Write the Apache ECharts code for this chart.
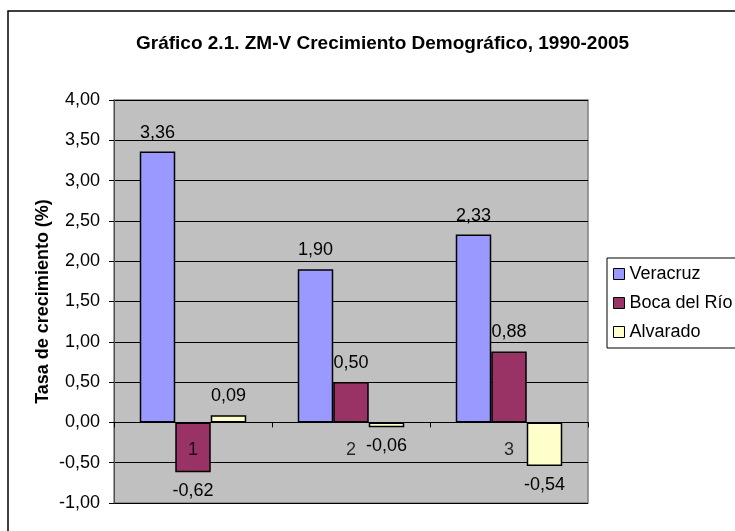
<!DOCTYPE html>
<html>
<head>
<meta charset="utf-8">
<script src="https://cdn.jsdelivr.net/npm/echarts@6/dist/echarts.min.js"></script>
<style>
html,body{margin:0;padding:0;background:#fff;}
#chart{width:735px;height:531px;}
</style>
</head>
<body>
<div id="chart"></div>
<script>
const titleText = 'Gráfico 2.1. ZM-V Crecimiento Demográfico, 1990-2005';
const yAxisName = 'Tasa de crecimiento (%)';
const categories = ['1', '2', '3'];
const seriesNames = ['Veracruz', 'Boca del Río', 'Alvarado'];
const veracruz = [3.36, 1.90, 2.33];
const bocaDelRio = [-0.62, 0.50, 0.88];
const alvarado = [0.09, -0.06, -0.54];
const colors = ['#9999FF', '#993366', '#FFFFCC'];
const yMin = -1, yMax = 4, yInterval = 0.5;

const fmt = v => v.toFixed(2).replace('.', ',');
const FONT = 'Liberation Sans, Arial, sans-serif';

function makeSeries(name, values, color) {
  return {
    name: name,
    type: 'bar',
    barGap: '0%',
    barCategoryGap: '32.6%',
    itemStyle: { color: color, borderColor: '#000', borderWidth: 1.5 },
    data: values.map(v => ({
      value: v,
      label: { position: v < 0 ? 'bottom' : 'top' }
    })),
    label: {
      show: true,
      distance: 10,
      color: '#000',
      fontFamily: FONT,
      fontSize: 18,
      formatter: p => fmt(p.value)
    }
  };
}

// category labels sit on the zero line (as in the original), drawn via the axis scale
const categoryLabelSeries = {
  name: '_cat',
  type: 'scatter',
  symbolSize: 0,
  z: 5,
  silent: true,
  data: categories.map(c => [c, 0]),
  label: {
    show: true,
    position: 'bottom',
    distance: 19,
    color: '#000',
    fontFamily: FONT,
    fontSize: 18,
    formatter: p => p.value[0]
  }
};

const chart = echarts.init(document.getElementById('chart'), null, { renderer: 'canvas' });
chart.setOption({
  backgroundColor: '#fff',
  animation: false,
  color: colors,
  graphic: [{
    type: 'rect',
    z: -1,
    shape: { x: 8, y: 11, width: 800, height: 600 },
    style: { fill: 'none', stroke: '#000', lineWidth: 1.5 }
  }],
  title: {
    text: titleText,
    left: 136,
    top: 34,
    padding: 0,
    textStyle: { fontFamily: FONT, fontSize: 19, fontWeight: 'bold', color: '#000' }
  },
  legend: {
    orient: 'vertical',
    left: 607,
    top: 258,
    padding: [7, 12, 7, 6],
    borderColor: '#000',
    borderWidth: 1,
    itemGap: 11,
    itemWidth: 11,
    itemHeight: 11,
    icon: 'rect',
    itemStyle: { borderColor: '#000', borderWidth: 1 },
    textStyle: { fontFamily: FONT, fontSize: 18, color: '#000' },
    data: seriesNames
  },
  grid: {
    left: 114,
    top: 100,
    width: 474,
    height: 403,
    show: true,
    backgroundColor: '#C0C0C0',
    borderColor: '#808080',
    borderWidth: 1.5
  },
  xAxis: {
    type: 'category',
    data: categories,
    axisLine: { onZero: true, lineStyle: { color: '#000', width: 1 } },
    axisTick: { show: true, length: 5, lineStyle: { color: '#000' } },
    axisLabel: { show: false },
    splitLine: { show: false }
  },
  yAxis: {
    type: 'value',
    min: yMin,
    max: yMax,
    interval: yInterval,
    name: yAxisName,
    nameLocation: 'middle',
    nameGap: 62,
    nameMoveOverlap: false,
    nameTextStyle: { fontFamily: FONT, fontSize: 18, fontWeight: 'bold', color: '#000' },
    axisLine: { show: true, lineStyle: { color: '#505050', width: 1 } },
    axisTick: { show: true, length: 5, lineStyle: { color: '#000' } },
    axisLabel: { margin: 14, color: '#000', fontFamily: FONT, fontSize: 18, formatter: v => fmt(v) },
    splitLine: { show: true, lineStyle: { color: '#000', width: 1 } }
  },
  series: [
    makeSeries(seriesNames[0], veracruz, colors[0]),
    makeSeries(seriesNames[1], bocaDelRio, colors[1]),
    makeSeries(seriesNames[2], alvarado, colors[2]),
    categoryLabelSeries
  ]
});
</script>
</body>
</html>
